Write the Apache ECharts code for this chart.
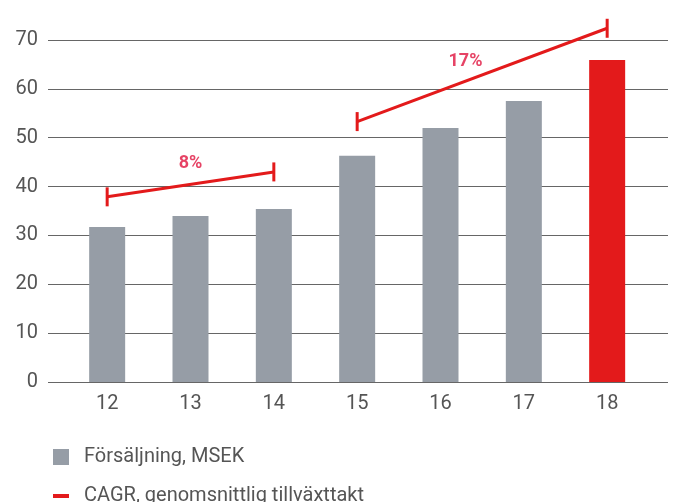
<!DOCTYPE html>
<html>
<head>
<meta charset="utf-8">
<script src="https://cdn.jsdelivr.net/npm/echarts@6/dist/echarts.min.js"></script>
<style>
  html, body { margin: 0; padding: 0; background: #fff; }
  #chart { width: 673px; height: 502px; }
</style>
</head>
<body>
<div id="chart"></div>
<script>
// år (x) och försäljning i MSEK
var years = [12, 13, 14, 15, 16, 17, 18];
var sales = [31.7, 34.0, 35.4, 46.3, 52.0, 57.5, 65.9];
var yTicks = [0, 10, 20, 30, 40, 50, 60, 70];
// CAGR-linjer, [år, nivå]
var cagrShort = [[12, 37.9], [14, 43.0]];
var cagrLong = [[15, 53.3], [18, 72.4]];
var cagrLabels = [[13, 44.8, '8%'], [16.3, 65.5, '17%']];

var grey = '#969da6';
var red = '#e31a1b';
var font = 'Roboto, "Liberation Sans", sans-serif';
var salesName = 'Försäljning, MSEK';
var cagrName = 'CAGR, genomsnittlig tillväxttakt';

var chart = echarts.init(document.getElementById('chart'));

var barData = years.map(function (y, i) {
  return {
    value: [y, sales[i]],
    itemStyle: { color: i === years.length - 1 ? red : grey }
  };
});

function cagrSeries(data) {
  return {
    name: cagrName,
    type: 'line',
    data: data,
    clip: false,
    symbol: 'rect',
    symbolSize: [3, 19],
    itemStyle: { color: red },
    lineStyle: { color: red, width: 3 },
    z: 5
  };
}

function legendAt(top, item) {
  return {
    orient: 'vertical',
    left: 48,
    top: top,
    itemWidth: 16,
    itemHeight: 16,
    selectedMode: false,
    textStyle: { fontSize: 20, color: '#555', padding: [0, 0, 0, 10] },
    data: [item]
  };
}

var option = {
  animation: false,
  textStyle: { fontFamily: font },
  grid: { left: 48, right: 5, top: 40, bottom: 120 },
  xAxis: {
    type: 'value',
    min: 11.29,
    max: 18.73,
    splitLine: { show: false },
    axisLine: { show: false },
    axisTick: { show: false },
    axisLabel: {
      customValues: years,
      fontSize: 20,
      color: '#555',
      margin: 12
    }
  },
  yAxis: {
    type: 'value',
    min: yTicks[0],
    max: yTicks[yTicks.length - 1],
    interval: 10,
    axisLine: { show: false },
    axisTick: { show: false },
    splitLine: { lineStyle: { color: '#666', width: 1 } },
    axisLabel: { fontSize: 20, color: '#555', margin: 10 }
  },
  legend: [
    legendAt(442, { name: salesName, icon: 'rect', itemStyle: { color: grey } }),
    legendAt(481, { name: cagrName, icon: 'path://M0,0H16V4H0Z', itemStyle: { color: red } })
  ],
  series: [
    {
      name: salesName,
      type: 'bar',
      barWidth: 36,
      data: barData,
      itemStyle: { color: grey }
    },
    cagrSeries(cagrShort),
    cagrSeries(cagrLong),
    {
      type: 'scatter',
      data: cagrLabels,
      symbolSize: 0,
      clip: false,
      label: {
        show: true,
        position: 'inside',
        formatter: function (p) { return p.value[2]; },
        color: '#e0143e',
        fontSize: 18,
        fontWeight: 'bold',
        fontFamily: font
      },
      z: 6
    }
  ]
};

chart.setOption(option);
</script>
</body>
</html>
